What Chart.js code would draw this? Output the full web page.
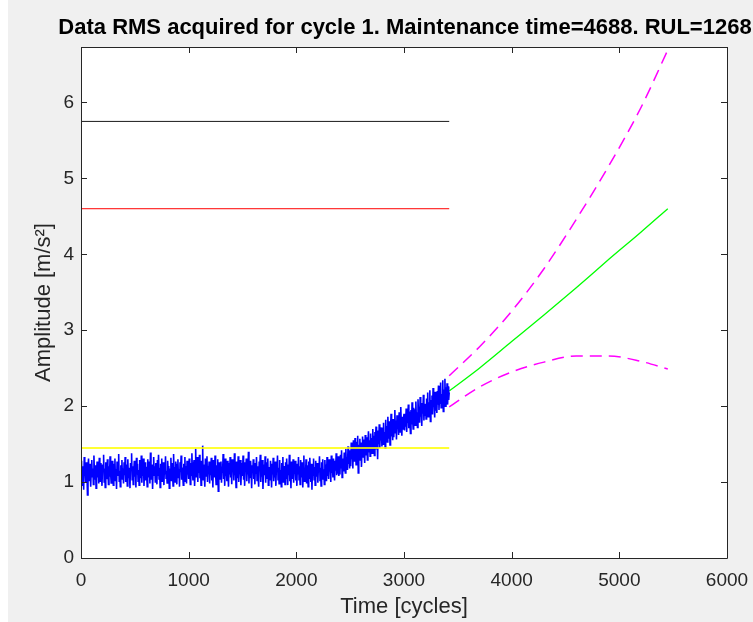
<!DOCTYPE html>
<html>
<head>
<meta charset="utf-8">
<script src="https://cdn.jsdelivr.net/npm/chart.js@4/dist/chart.umd.min.js"></script>
<style>
  html, body { margin: 0; padding: 0; background: #fff; }
  #frame { position: absolute; left: 8px; top: 0; width: 745px; height: 622px; background: #f0f0f0; }
</style>
</head>
<body>
<div id="frame"><canvas id="rms-chart" width="745" height="622"></canvas></div>
<script>
const chartTitle = 'Data RMS acquired for cycle 1. Maintenance time=4688. RUL=1268';
const xTicks = [0, 1000, 2000, 3000, 4000, 5000, 6000];
const yTicks = [0, 1, 2, 3, 4, 5, 6];

// measured RMS, one sample every 5 cycles from cycle 0 to 3420 (one row = 100 cycles)
const rmsStep = 5;
const rmsValues = [
  1.05,1.28,0.96,1.21,1.12,0.90,1.33,1.08,1.17,0.99,1.26,1.14,0.83,1.19,1.31,1.02,1.10,1.24,0.94,1.16,
  1.29,1.07,1.18,0.97,1.35,1.11,1.03,1.22,0.92,1.15,1.27,1.06,1.20,0.98,1.32,1.13,1.01,1.25,1.09,0.95,
  1.23,1.14,1.36,1.00,1.18,0.93,1.26,1.10,1.04,1.30,1.16,0.97,1.21,1.07,1.34,1.12,0.99,1.19,1.28,1.05,
  0.96,1.24,1.13,1.31,1.02,1.17,0.91,1.27,1.08,1.20,1.37,1.01,1.15,0.94,1.22,1.11,1.29,1.04,1.18,0.98,
  1.26,1.09,1.33,1.00,1.14,1.23,0.95,1.30,1.06,1.19,1.12,0.92,1.25,1.16,1.38,1.03,1.21,0.97,1.13,1.28,
  1.07,1.19,0.93,1.32,1.10,1.24,1.01,1.16,0.96,1.29,1.13,1.05,1.35,0.99,1.22,1.08,1.31,0.95,1.17,1.26,
  1.02,1.20,1.11,0.94,1.30,1.15,1.06,1.27,0.98,1.39,1.12,1.03,1.23,0.91,1.18,1.33,1.09,1.21,1.00,1.25,
  1.14,0.97,1.29,1.08,1.36,1.04,1.19,0.93,1.24,1.12,1.31,1.01,1.17,1.26,0.96,1.22,1.10,1.34,1.05,1.15,
  0.99,1.28,1.13,1.21,0.92,1.18,1.07,1.32,1.02,1.25,1.16,0.95,1.37,1.09,1.20,1.00,1.27,1.11,0.97,1.23,
  1.30,1.06,1.17,0.94,1.26,1.14,1.35,1.03,1.19,1.08,0.96,1.24,1.12,1.33,1.01,1.21,0.98,1.28,1.10,1.16,
  1.04,1.31,1.18,0.97,1.25,1.09,1.38,1.13,1.02,1.22,1.29,0.95,1.16,1.44,1.07,1.20,1.33,1.00,1.26,1.12,
  1.36,1.05,1.19,0.96,1.28,1.15,1.48,1.03,1.23,1.10,0.94,1.31,1.17,1.08,1.34,1.00,1.21,1.13,1.27,0.98,
  1.24,1.09,1.32,1.02,1.17,0.93,1.29,1.14,1.06,1.35,1.11,0.97,1.22,1.05,1.30,0.88,1.18,1.26,1.03,1.15,
  1.27,0.99,1.20,1.12,1.37,1.04,1.23,0.95,1.31,1.08,1.16,1.01,1.28,1.14,0.94,1.25,1.10,1.33,1.06,1.19,
  0.97,1.30,1.15,1.24,1.02,1.38,1.09,1.18,0.93,1.27,1.13,1.05,1.34,1.00,1.21,1.11,1.29,0.96,1.17,1.25,
  1.08,1.35,1.03,1.20,0.95,1.26,1.14,1.31,1.01,1.19,1.10,1.40,0.98,1.23,1.06,1.28,1.15,0.92,1.22,1.12,
  1.30,1.04,1.18,0.97,1.25,1.11,1.33,1.02,1.21,1.08,0.94,1.27,1.16,1.36,1.00,1.19,1.07,1.29,0.91,1.14,
  1.23,1.09,1.34,0.99,1.17,1.26,1.05,1.31,0.96,1.20,1.12,1.02,1.28,1.15,0.93,1.24,1.10,1.32,1.01,1.18,
  1.06,1.27,0.95,1.22,1.13,1.35,1.03,1.19,0.98,1.29,1.10,1.16,0.94,1.25,1.08,1.33,1.00,1.21,1.14,0.97,
  1.26,1.05,1.31,1.12,0.96,1.23,1.09,1.36,1.01,1.18,0.92,1.27,1.14,1.04,1.30,0.99,1.20,1.11,1.28,1.02,
  1.17,0.95,1.24,1.10,1.33,1.03,1.21,0.97,1.29,1.13,1.06,1.26,0.93,1.19,1.35,1.01,1.15,1.08,1.30,0.98,
  1.22,1.12,0.94,1.27,1.05,1.32,1.16,1.00,1.24,0.90,1.18,1.09,1.31,1.03,1.20,0.96,1.28,1.14,1.07,1.25,
  0.99,1.21,1.13,1.34,1.02,1.19,0.95,1.26,1.10,1.30,1.04,1.17,0.97,1.29,1.12,1.23,1.01,1.33,1.08,1.20,
  1.04,1.30,1.14,1.25,1.00,1.35,1.12,1.22,1.06,1.31,1.18,1.02,1.28,1.15,1.38,1.09,1.24,1.11,1.34,1.08,
  1.28,1.10,1.36,1.19,1.42,1.06,1.31,1.22,1.14,1.39,1.25,1.12,1.44,1.20,1.33,1.16,1.47,1.24,1.38,1.18,
  1.42,1.21,1.52,1.30,1.46,1.18,1.55,1.37,1.27,1.58,1.40,1.23,1.53,1.33,1.61,1.12,1.49,1.36,1.57,1.29,
  1.52,1.20,1.45,1.60,1.33,1.56,1.41,1.25,1.62,1.47,1.36,1.59,1.29,1.51,1.67,1.40,1.55,1.34,1.64,1.44,
  1.58,1.38,1.70,1.48,1.61,1.35,1.66,1.52,1.73,1.43,1.60,1.30,1.68,1.50,1.76,1.45,1.63,1.55,1.72,1.47,
  1.69,1.50,1.78,1.58,1.66,1.45,1.82,1.61,1.74,1.53,1.86,1.64,1.57,1.80,1.49,1.71,1.90,1.60,1.77,1.55,
  1.83,1.59,1.76,1.95,1.65,1.81,1.56,1.88,1.70,1.79,1.62,1.92,1.73,1.66,1.99,1.75,1.61,1.86,1.69,1.82,
  1.90,1.68,1.85,1.73,1.97,1.66,1.88,1.78,2.02,1.71,1.93,1.80,1.64,1.95,1.76,2.05,1.83,1.70,1.98,1.79,
  1.96,1.75,2.06,1.84,1.92,1.72,2.09,1.88,1.99,1.78,2.12,1.86,1.95,1.74,2.04,1.90,2.15,1.81,2.00,1.87,
  2.03,1.83,2.10,1.92,2.18,1.86,2.05,1.95,2.21,1.80,2.08,1.97,2.14,1.89,2.24,1.99,2.07,1.85,2.19,1.94,
  2.11,1.91,2.20,2.02,2.27,1.95,2.13,2.04,2.31,1.98,2.16,2.08,2.34,1.93,2.22,2.06,2.36,2.00,2.25,2.10,
  2.30,2.02,2.26,2.08,2.18
];

// horizontal levels drawn over the acquired range
const levelSpan = [0, 3420];
const alarmLevel = 1.45;
const failureLevel = 4.6;
const limitLevel = 5.75;

// prognosis after the last sample
const predCycles = [3420, 3700, 4000, 4300, 4600, 4900, 5200, 5450];
const predMean   = [2.20, 2.50, 2.85, 3.20, 3.56, 3.93, 4.29, 4.60];
const predUpper  = [2.40, 2.78, 3.25, 3.81, 4.46, 5.16, 5.93, 6.69];
const predLower  = [1.99, 2.25, 2.45, 2.58, 2.66, 2.66, 2.59, 2.49];

const FONT = '"Liberation Sans", Arial, Helvetica, sans-serif';
const AXIS_COLOR = '#262626';

const rmsPoints = rmsValues.map((v, i) => ({ x: i * rmsStep, y: v }));
const level = y => levelSpan.map(x => ({ x, y }));
const pred = arr => predCycles.map((x, i) => ({ x, y: arr[i] }));

// white plot area, box with inward ticks on all four sides, and the figure title
const axesBox = {
  id: 'axesBox',
  beforeDatasetsDraw(chart) {
    const { ctx, chartArea: a } = chart;
    ctx.save();
    ctx.fillStyle = '#fff';
    ctx.fillRect(a.left, a.top, a.right - a.left, a.bottom - a.top);
    ctx.restore();
  },
  afterDatasetsDraw(chart) {
    const { ctx, chartArea: a, scales } = chart;
    const len = 6;
    ctx.save();
    ctx.strokeStyle = AXIS_COLOR;
    ctx.lineWidth = 1;
    ctx.beginPath();
    ctx.rect(Math.round(a.left) + 0.5, Math.round(a.top) + 0.5,
             Math.round(a.right - a.left), Math.round(a.bottom - a.top));
    xTicks.forEach(v => {
      const px = Math.round(scales.x.getPixelForValue(v)) + 0.5;
      ctx.moveTo(px, a.bottom); ctx.lineTo(px, a.bottom - len);
      ctx.moveTo(px, a.top); ctx.lineTo(px, a.top + len);
    });
    yTicks.forEach(v => {
      const py = Math.round(scales.y.getPixelForValue(v)) + 0.5;
      ctx.moveTo(a.left, py); ctx.lineTo(a.left + len, py);
      ctx.moveTo(a.right, py); ctx.lineTo(a.right - len, py);
    });
    ctx.stroke();

    ctx.fillStyle = '#000';
    ctx.font = 'bold 22px ' + FONT;
    ctx.textAlign = 'center';
    ctx.textBaseline = 'middle';
    ctx.fillText(chartTitle, (a.left + a.right) / 2 + 1, 28);
    ctx.restore();
  }
};

new Chart(document.getElementById('rms-chart'), {
  type: 'line',
  data: {
    datasets: [
      { label: 'alarm', data: level(alarmLevel), borderColor: 'rgba(255,255,0,0.8)', borderWidth: 2, order: 0 },
      { label: 'RMS', data: rmsPoints, borderColor: '#0000ff', borderWidth: 1.6, order: 1 },
      { label: 'limit', data: level(limitLevel), borderColor: '#1a1a1a', borderWidth: 1, order: 2 },
      { label: 'failure', data: level(failureLevel), borderColor: '#ff0000', borderWidth: 1, order: 2 },
      { label: 'prediction', data: pred(predMean), borderColor: '#00ff00', borderWidth: 1.3,
        cubicInterpolationMode: 'monotone', order: 2 },
      { label: 'upper', data: pred(predUpper), borderColor: '#ff00ff', borderWidth: 1.5, borderDash: [12, 7],
        cubicInterpolationMode: 'monotone', order: 2 },
      { label: 'lower', data: pred(predLower), borderColor: '#ff00ff', borderWidth: 1.5, borderDash: [12, 7],
        cubicInterpolationMode: 'monotone', order: 2 }
    ]
  },
  options: {
    responsive: false,
    animation: false,
    parsing: false,
    normalized: true,
    layout: { padding: { top: 47, right: 26, left: 0, bottom: 0 } },
    elements: { point: { radius: 0 }, line: { tension: 0 } },
    plugins: { legend: { display: false }, tooltip: { enabled: false } },
    scales: {
      x: {
        type: 'linear',
        min: 0,
        max: 6000,
        afterBuildTicks: s => { s.ticks = xTicks.map(v => ({ value: v })); },
        afterFit: s => { s.height = 64; s.paddingLeft = 0; s.paddingRight = 0; },
        grid: { display: false, drawTicks: false },
        border: { display: false },
        ticks: { color: AXIS_COLOR, font: { family: FONT, size: 19 }, padding: 11, maxRotation: 0,
                 callback: v => String(v) },
        title: { display: true, text: 'Time [cycles]', color: AXIS_COLOR,
                 font: { family: FONT, size: 22 }, padding: { top: 0, bottom: 2 } }
      },
      y: {
        type: 'linear',
        min: 0,
        max: 6.73,
        afterBuildTicks: s => { s.ticks = yTicks.map(v => ({ value: v })); },
        afterFit: s => { s.width = 73; },
        grid: { display: false, drawTicks: false },
        border: { display: false },
        ticks: { color: AXIS_COLOR, font: { family: FONT, size: 19 }, padding: 7,
                 callback: v => String(v) },
        title: { display: true, text: 'Amplitude [m/s²]', color: AXIS_COLOR,
                 font: { family: FONT, size: 22 }, padding: { top: 23, bottom: 0 } }
      }
    }
  },
  plugins: [axesBox]
});
</script>
</body>
</html>
